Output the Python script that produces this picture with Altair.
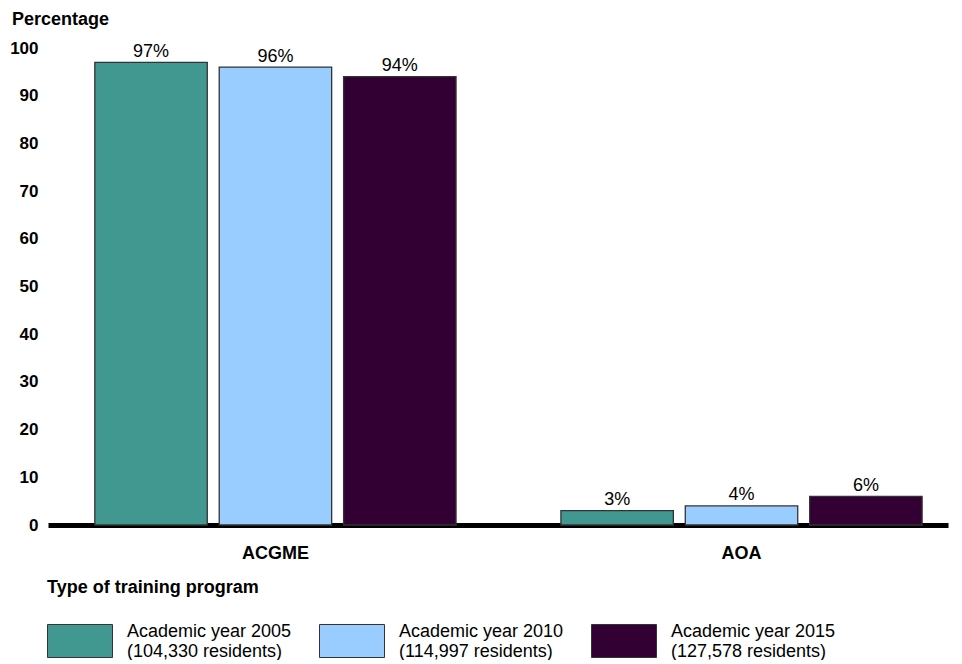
import altair as alt
import pandas as pd

programs = ["ACGME", "AOA"]
years = ["Academic year 2005", "Academic year 2010", "Academic year 2015"]
residents = ["(104,330 residents)", "(114,997 residents)", "(127,578 residents)"]
acgme_pct = [97, 96, 94]
aoa_pct = [3, 4, 6]
colors = ["#409890", "#99CCFF", "#330033"]

series = [f"{y}|{r}" for y, r in zip(years, residents)]
rows = []
for prog, vals in zip(programs, [acgme_pct, aoa_pct]):
    for s, v in zip(series, vals):
        rows.append({"program": prog, "series": s, "pct": v, "label": f"{v}%"})
df = pd.DataFrame(rows)

FONT = "Liberation Sans"
FS = 18

x = alt.X("program:N", sort=programs,
          scale=alt.Scale(paddingInner=0.225, paddingOuter=0.078, align=0.644),
          axis=alt.Axis(title=None, labelAngle=0, labelFontWeight="bold", labelFontSize=FS,
                        labelFont=FONT, labelColor="black", ticks=False, tickSize=0,
                        labelPadding=19, domainColor="black", domainWidth=5, grid=False))
xo = alt.XOffset("series:N", sort=series, scale=alt.Scale(paddingInner=0.096, paddingOuter=0))
y = alt.Y("pct:Q", scale=alt.Scale(domain=[0, 100], nice=False),
          axis=alt.Axis(values=list(range(0, 101, 10)), title="Percentage", titleAngle=0,
                        titleX=-36.5, titleY=-24, titleAlign="left", titleBaseline="alphabetic",
                        titleFontSize=FS, titleFontWeight="bold", titleFont=FONT, titleColor="black",
                        labelFontSize=17, labelFontWeight="bold", labelFont=FONT, labelColor="black",
                        labelPadding=10, ticks=False, tickSize=0, domain=False, grid=False))

bars = alt.Chart(df).mark_bar(stroke="#333333", strokeWidth=1.3).encode(
    x=x, xOffset=xo, y=y,
    color=alt.Color("series:N", sort=series,
                    scale=alt.Scale(domain=series, range=colors),
                    legend=alt.Legend(title="Type of training program", orient="none",
                                      legendX=-1, legendY=531, direction="horizontal",
                                      columns=3, columnPadding=25, padding=0,
                                      titleFontSize=FS, titleFontWeight="bold", titleFont=FONT,
                                      titleColor="black", titlePadding=11, titleAnchor="start",
                                      titleLimit=500,
                                      symbolType="M-1,-0.508H1V0.508H-1Z", symbolSize=4225,
                                      symbolStrokeColor="#333333", symbolStrokeWidth=1,
                                      symbolOpacity=1,
                                      labelFontSize=FS, labelFont=FONT, labelColor="black",
                                      labelOffset=14, labelLimit=400, labelBaseline="bottom",
                                      labelExpr="split(datum.label, '|')")),
)

texts = alt.Chart(df).mark_text(fontSize=FS, font=FONT, color="black", baseline="alphabetic",
                                dy=-5.5).encode(
    x=alt.X("program:N", sort=programs), xOffset=alt.XOffset("series:N", sort=series),
    y="pct:Q", text="label:N")

chart = alt.layer(bars, texts).properties(
    width=900, height=477,
    autosize=alt.AutoSizeParams(type="none"),
    padding={"left": 40, "top": 40, "right": 6, "bottom": 135},
).configure(background="white", view=alt.ViewConfig(stroke=None))

chart.save("out.html", embed_options={"renderer": "svg", "actions": False})
